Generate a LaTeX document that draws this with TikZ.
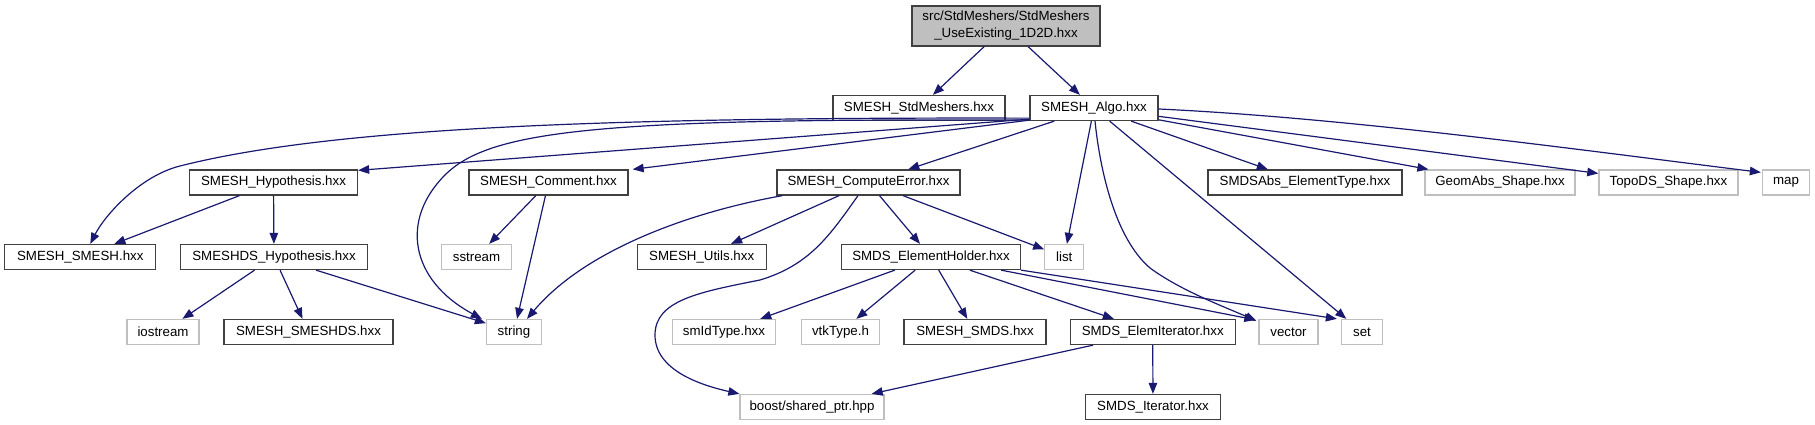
\documentclass[tikz,border=0pt]{standalone}
\usepackage{fontspec}
\setmainfont{Liberation Sans}
\usetikzlibrary{arrows.meta,calc}
\definecolor{edgec}{HTML}{191970}
\definecolor{darkb}{HTML}{404040}
\definecolor{lightb}{HTML}{BFBFBF}
\begin{document}
\begin{tikzpicture}[x=1pt,y=-1pt,
  box/.style={draw=darkb, line width=1.3pt, minimum height=25pt, inner sep=0pt, font=\fontsize{13.3}{17}\selectfont, text=black},
  ext/.style={box, draw=lightb},
  edge/.style={draw=edgec, line width=1.2pt, -{Triangle[length=11pt,width=8.5pt]}},
]
\useasboundingbox (0,0) rectangle (1815,425);
% row 0/1
\node[box, fill=lightb, minimum width=188pt, minimum height=40pt, align=center] (root) at (1006,26) {src/StdMeshers/StdMeshers\\\_UseExisting\_1D2D.hxx};
\node[box, minimum width=172pt] (std) at (919,108) {SMESH\_StdMeshers.hxx};
\node[box, minimum width=128pt] (algo) at (1094,108) {SMESH\_Algo.hxx};
% row 2
\node[box, minimum width=168pt] (hyp) at (273.5,182.5) {SMESH\_Hypothesis.hxx};
\node[box, minimum width=159pt] (comment) at (548.5,182.5) {SMESH\_Comment.hxx};
\node[box, minimum width=183pt] (cerr) at (868.5,182.5) {SMESH\_ComputeError.hxx};
\node[box, minimum width=194pt] (abs) at (1305,182.5) {SMDSAbs\_ElementType.hxx};
\node[ext, minimum width=150pt] (geom) at (1500,182.5) {GeomAbs\_Shape.hxx};
\node[ext, minimum width=139pt] (topo) at (1668.4,182.5) {TopoDS\_Shape.hxx};
\node[ext, minimum width=47pt] (nmap) at (1786,182.5) {map};
% row 3
\node[box, minimum width=151pt] (smesh) at (80.3,257) {SMESH\_SMESH.hxx};
\node[box, minimum width=187pt] (hypds) at (274,257) {SMESHDS\_Hypothesis.hxx};
\node[ext, minimum width=70pt] (sstream) at (476.5,257) {sstream};
\node[box, minimum width=129pt] (utils) at (701.7,257) {SMESH\_Utils.hxx};
\node[box, minimum width=179pt] (eh) at (931,257) {SMDS\_ElementHolder.hxx};
\node[ext, minimum width=39pt] (nlist) at (1064.3,257) {list};
% row 4
\node[ext, minimum width=72pt] (iostream) at (163,332) {iostream};
\node[box, minimum width=169pt] (smeshds) at (308.5,332) {SMESH\_SMESHDS.hxx};
\node[ext, minimum width=55pt] (nstring) at (514,332) {string};
\node[ext, minimum width=103pt] (smid) at (724,332) {smIdType.hxx};
\node[ext, minimum width=78pt] (vtk) at (840.5,332) {vtkType.h};
\node[box, minimum width=142pt] (smds) at (975,332) {SMESH\_SMDS.hxx};
\node[box, minimum width=165pt] (eiter) at (1152.7,332) {SMDS\_ElemIterator.hxx};
\node[ext, minimum width=59pt] (nvector) at (1288.5,332) {vector};
\node[ext, minimum width=41pt] (nset) at (1362,332) {set};
% row 5
\node[ext, minimum width=144pt] (boost) at (812,407) {boost/shared\_ptr.hpp};
\node[box, minimum width=135pt] (iter) at (1153,407) {SMDS\_Iterator.hxx};

% edges from root
\draw[edge] (root) -- (std);
\draw[edge] (root) -- (algo);
% edges from algo
\draw[edge] ($(algo.south west)+(0,-3)$) .. controls (600,117) and (330,128) .. (180,166)
  .. controls (140,176) and (105,215) .. ($(smesh.north)+(10,0)$);
\draw[edge] ($(algo.south west)+(0,-2)$) -- ($(hyp.north east)+(0,1)$);
\draw[edge] ($(algo.south west)+(0,-1)$) .. controls (600,118) and (490,130) .. (445,175)
  .. controls (400,220) and (410,280) .. ($(nstring.north west)+(-4,0)$);
\draw[edge] ($(algo.south west)+(0,-1)$) -- ($(comment.north east)+(4,0)$);
\draw[edge] (algo) -- (cerr);
\draw[edge] (algo) -- (nlist);
\draw[edge] ($(algo.south)+(1,0)$) .. controls (1100,170) and (1115,238) .. (1150,268)
  .. controls (1180,290) and (1220,305) .. ($(nvector.north west)+(-2,2)$);
\draw[edge] (algo) -- (nset);
\draw[edge] (algo) -- (abs);
\draw[edge] (algo) -- (geom);
\draw[edge] (algo) -- (topo);
\draw[edge] ($(algo.east)+(0,1)$) .. controls (1350,118) and (1580,150) .. ($(nmap.north west)+(-1,3)$);
% hypothesis
\draw[edge] (hyp) -- (smesh);
\draw[edge] (hyp) -- (hypds);
\draw[edge] (hypds) -- (iostream);
\draw[edge] (hypds) -- (smeshds);
\draw[edge] (hypds) -- (nstring);
% comment
\draw[edge] (comment) -- (sstream);
\draw[edge] (comment) -- (nstring);
% compute error
\draw[edge] ($(cerr.south west)+(6,0)$) .. controls (690,212) and (585,250) .. ($(nstring.north)+(13,0)$);
\draw[edge] (cerr) -- (utils);
\draw[edge] (cerr) -- (eh);
\draw[edge] (cerr) -- (nlist);
\draw[edge] ($(cerr.south)+(-10.5,0)$) .. controls (830,235) and (810,265) .. (760,280)
  .. controls (700,292) and (655,300) .. (655,335)
  .. controls (655,370) and (700,385) .. (boost.north west);
% element holder
\draw[edge] (eh) -- (smid);
\draw[edge] (eh) -- (vtk);
\draw[edge] (eh) -- (smds);
\draw[edge] (eh) -- (eiter);
\draw[edge] ($(eh.south east)+(-20,0)$) -- ($(nvector.north west)+(-3,1)$);
\draw[edge] (eh.south east) -- ($(nset.north west)+(-4,0)$);
% elem iterator
\draw[edge] (eiter) -- (boost);
\draw[edge] (eiter) -- (iter);
\end{tikzpicture}
\end{document}
